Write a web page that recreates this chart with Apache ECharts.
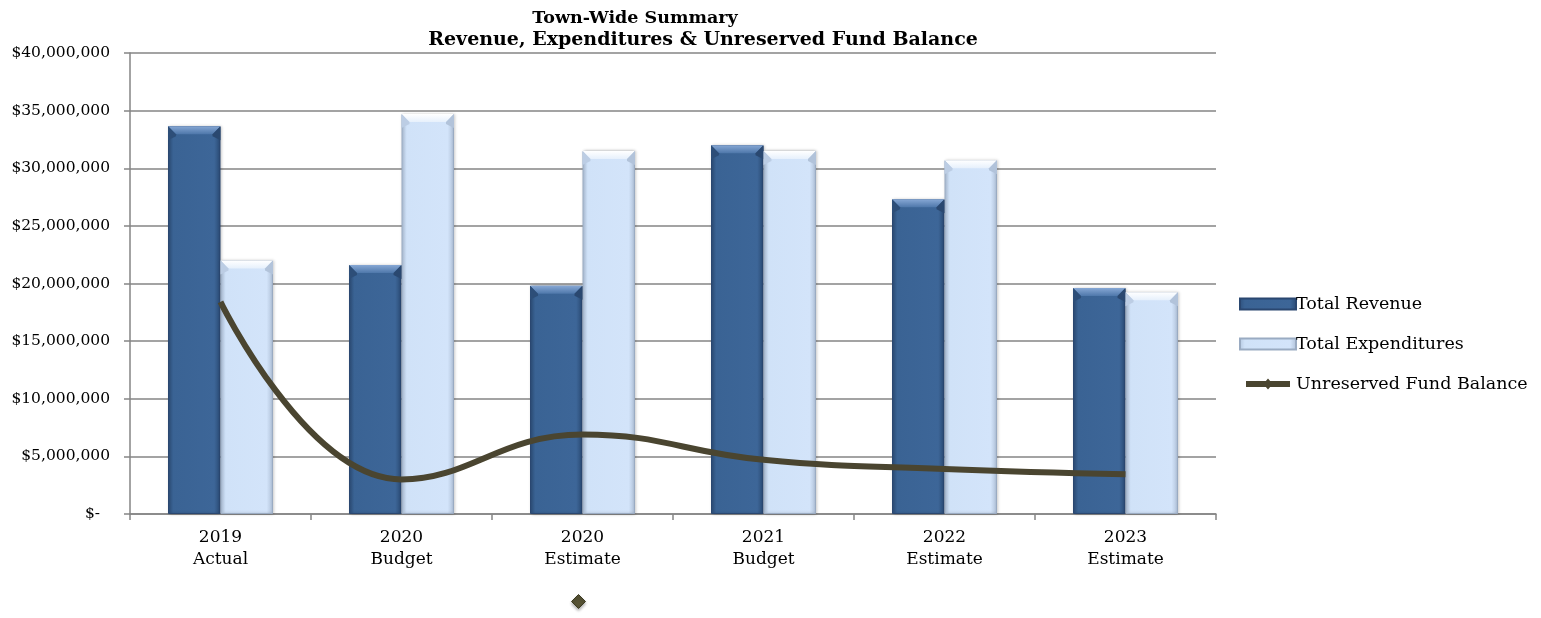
<!DOCTYPE html>
<html>
<head>
<meta charset="utf-8">
<script src="https://cdn.jsdelivr.net/npm/echarts@6/dist/echarts.min.js"></script>
<style>
  html, body { margin: 0; padding: 0; background: #ffffff; }
  #chart { width: 1541px; height: 618px; }
</style>
</head>
<body>
<div id="chart"></div>
<script>
// Town-wide summary: revenue, expenditures and unreserved fund balance
const categories = ['2019\nActual', '2020\nBudget', '2020\nEstimate', '2021\nBudget', '2022\nEstimate', '2023\nEstimate'];
const totalRevenue = [33650000, 21600000, 19800000, 32000000, 27300000, 19600000];
const totalExpenditures = [22000000, 34700000, 31500000, 31500000, 30700000, 19250000];
const fundBalance = [18400000, 3000000, 6900000, 4700000, 3900000, 3450000];
const yTicks = { min: 0, max: 40000000, interval: 5000000 };

const FONT = 'DejaVu Serif';
const CATEGORY_GAP = 0.42;   // share of each band left empty between bar groups

// Legend glyph for the balance line: a thick stroke with a diamond in the middle
const LINE_DIAMOND_ICON = 'path://M0,3.2H25.3L28,0L30.7,3.2H56V10.8H30.7L28,14L25.3,10.8H0Z';

function money(v) {
  if (v === 0) return '{z|$-}';
  return '$' + v.toLocaleString('en-US');
}

const chart = echarts.init(document.getElementById('chart'), null, { renderer: 'canvas' });

const revenueFill = new echarts.graphic.LinearGradient(0, 0, 1, 0, [
  { offset: 0, color: '#2e507c' },
  { offset: 0.1, color: '#3a6394' },
  { offset: 0.88, color: '#3d6698' },
  { offset: 1, color: '#2a4a73' }
]);
const expendFill = new echarts.graphic.LinearGradient(0, 0, 1, 0, [
  { offset: 0, color: '#b4c7df' },
  { offset: 0.1, color: '#d0e2f8' },
  { offset: 0.88, color: '#d3e4fa' },
  { offset: 1, color: '#aebfd6' }
]);

// Bevelled cap drawn on top of each bar (offset: -1 for the left bar, +1 for the right)
function bevelRenderer(offset, values, capColors) {
  return function (params, api) {
    const idx = params.dataIndex;
    const band = api.size([1, 0])[0];
    const barW = band * (1 - CATEGORY_GAP) / 2;
    const top = api.coord([idx, values[idx]]);
    const x0 = offset < 0 ? top[0] - barW : top[0];
    const x1 = x0 + barW;
    const y0 = top[1];
    const b = 8;
    return {
      type: 'group',
      silent: true,
      children: [
        {
          type: 'polygon',
          shape: { points: [[x0, y0], [x1, y0], [x1 - b, y0 + b], [x0 + b, y0 + b]] },
          style: {
            fill: new echarts.graphic.LinearGradient(0, 0, 0, 1, [
              { offset: 0, color: capColors[0] },
              { offset: 1, color: capColors[1] }
            ])
          }
        },
        {
          type: 'polygon',
          shape: { points: [[x0, y0], [x0 + b, y0 + b], [x0 + b, y0 + b + 2], [x0, y0 + b + 6]] },
          style: { fill: capColors[2] }
        },
        {
          type: 'polygon',
          shape: { points: [[x1, y0], [x1 - b, y0 + b], [x1 - b, y0 + b + 2], [x1, y0 + b + 6]] },
          style: { fill: capColors[3] }
        }
      ]
    };
  };
}

chart.setOption({
  animation: false,
  backgroundColor: '#ffffff',
  textStyle: { fontFamily: FONT },
  title: [
    {
      text: 'Town-Wide Summary',
      left: 630, top: 4, textAlign: 'center',
      textStyle: { fontFamily: FONT, fontWeight: 'bold', fontSize: 17.5, color: '#000' }
    },
    {
      text: 'Revenue, Expenditures & Unreserved Fund Balance',
      left: 698, top: 26, textAlign: 'center',
      textStyle: { fontFamily: FONT, fontWeight: 'bold', fontSize: 19, color: '#000' }
    }
  ],
  grid: { left: 130, right: 325, top: 53, bottom: 104, containLabel: false },
  legend: {
    orient: 'vertical',
    left: 1234, top: 290,
    itemWidth: 56, itemHeight: 11, itemGap: 22,
    textStyle: { fontFamily: FONT, fontSize: 17.5, color: '#000', padding: [0, 0, 0, -5] },
    data: [
      { name: 'Total Revenue', icon: 'rect' },
      { name: 'Total Expenditures', icon: 'rect' },
      { name: 'Unreserved Fund Balance', icon: LINE_DIAMOND_ICON, itemStyle: { color: '#4a4530' } }
    ]
  },
  xAxis: {
    type: 'category',
    data: categories,
    axisLine: { lineStyle: { color: '#858585', width: 1.5 } },
    axisTick: { show: true, length: 6, lineStyle: { color: '#858585', width: 1.5 } },
    axisLabel: { fontFamily: FONT, fontSize: 17, color: '#000', lineHeight: 22, margin: 13 }
  },
  yAxis: {
    type: 'value',
    min: yTicks.min, max: yTicks.max, interval: yTicks.interval,
    axisLine: { show: true, lineStyle: { color: '#858585', width: 1.5 } },
    axisTick: { show: true, length: 6, lineStyle: { color: '#858585', width: 1.5 } },
    splitLine: { lineStyle: { color: '#858585', width: 1.5 } },
    axisLabel: {
      fontFamily: FONT, fontSize: 15.5, color: '#000', margin: 20,
      formatter: money,
      rich: { z: { fontFamily: FONT, fontSize: 15.5, color: '#000', padding: [0, 10, 0, 0] } }
    }
  },
  series: [
    {
      name: 'Total Revenue',
      type: 'bar',
      data: totalRevenue,
      barGap: '0%',
      barCategoryGap: (CATEGORY_GAP * 100) + '%',
      itemStyle: {
        color: revenueFill,
        borderColor: '#2a4770', borderWidth: 1,
        shadowColor: 'rgba(0,0,0,0.25)', shadowBlur: 3, shadowOffsetX: 1
      }
    },
    {
      name: 'Total Expenditures',
      type: 'bar',
      data: totalExpenditures,
      itemStyle: {
        color: expendFill,
        borderColor: '#9aabc2', borderWidth: 1,
        shadowColor: 'rgba(0,0,0,0.25)', shadowBlur: 3, shadowOffsetX: 1
      }
    },
    {
      type: 'custom',
      silent: true,
      z: 3,
      data: totalRevenue,
      renderItem: bevelRenderer(-1, totalRevenue, ['#86a7d4', '#4e77aa', '#2d4e78', '#2a4870'])
    },
    {
      type: 'custom',
      silent: true,
      z: 3,
      data: totalExpenditures,
      renderItem: bevelRenderer(1, totalExpenditures, ['#ffffff', '#e6f0fc', '#bccde4', '#b2c3da'])
    },
    {
      name: 'Unreserved Fund Balance',
      type: 'line',
      z: 5,
      data: fundBalance,
      smooth: 0.45,
      symbol: 'diamond',
      symbolSize: 13,
      showSymbol: false,
      lineStyle: { color: '#4a4530', width: 6 },
      itemStyle: { color: '#4a4530' }
    }
  ],
  graphic: [
    {
      type: 'polygon',
      left: 571, top: 594,
      shape: { points: [[7, 0], [14, 7], [7, 14], [0, 7]] },
      style: {
        fill: '#575335', stroke: '#3c3a22', lineWidth: 1,
        shadowColor: 'rgba(0,0,0,0.3)', shadowBlur: 3, shadowOffsetY: 2
      }
    }
  ]
});
</script>
</body>
</html>
